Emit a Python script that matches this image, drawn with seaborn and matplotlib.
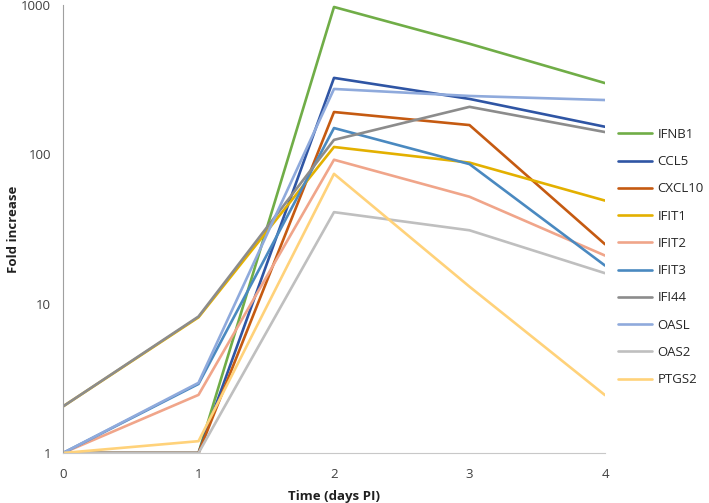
import pandas as pd
import matplotlib
matplotlib.use("Agg")
import matplotlib.pyplot as plt
import seaborn as sns

days = [0, 1, 2, 3, 4]
genes = ["IFNB1", "CCL5", "CXCL10", "IFIT1", "IFIT2", "IFIT3", "IFI44", "OASL", "OAS2", "PTGS2"]

ifnb1 = [1, 1, 970, 550, 300]
ccl5 = [1, 1, 325, 235, 153]
cxcl10 = [1, 1, 192, 157, 25]
ifit1 = [2.05, 8.1, 112, 88, 49]
ifit2 = [1, 2.45, 92, 52, 21]
ifit3 = [1, 2.9, 150, 86, 18]
ifi44 = [2.05, 8.2, 125, 208, 141]
oasl = [1, 2.95, 274, 246, 231]
oas2 = [1, 1, 41, 31, 16]
ptgs2 = [1, 1.2, 74, 13, 2.44]

colori = ["#70AD47", "#2F55A4", "#C55A11", "#E3B000", "#F0A58A",
          "#4A89C0", "#8C8C8C", "#8FAADC", "#BFBFBF", "#FFD27A"]

serie = [ifnb1, ccl5, cxcl10, ifit1, ifit2, ifit3, ifi44, oasl, oas2, ptgs2]
righe = []
for g, valori in zip(genes, serie):
    for d, v in zip(days, valori):
        righe.append({"day": d, "gene": g, "fold": v})
df = pd.DataFrame(righe)

sns.set_style("white")
plt.rcParams["font.family"] = ["Open Sans", "DejaVu Sans"]

fig = plt.figure(figsize=(7.09, 5.03), dpi=100)
ax = fig.add_axes([63 / 709, 50 / 503, 542 / 709, 448 / 503])
sns.lineplot(data=df, x="day", y="fold", hue="gene", hue_order=genes,
             palette=colori, linewidth=1.9, ax=ax, legend=True)

ax.set_yscale("log")
ax.set_ylim(1, 1000)
ax.set_xlim(0, 4)
ax.set_yticks([1, 10, 100, 1000])
ax.set_yticklabels(["1", "10", "100", "1000"])
ax.minorticks_off()
ax.set_xticks(days)
ax.set_xticklabels([str(d) for d in days])
ax.tick_params(axis="both", labelsize=9.5, colors="#404040", length=5, width=0.8, direction="out")
ax.tick_params(axis="y", color="#A0A0A0")
ax.tick_params(axis="x", color="#C8C8C8", pad=6)
for s in ["top", "right"]:
    ax.spines[s].set_visible(False)
ax.spines["left"].set_color("#A0A0A0")
ax.spines["bottom"].set_color("#C8C8C8")
ax.set_xlabel("Time (days PI)", fontsize=9.5, fontweight="bold", color="#202020")
ax.set_ylabel("Fold increase", fontsize=9.5, fontweight="bold", color="#202020")
ax.xaxis.set_label_coords(0.5, -0.083)
ax.yaxis.set_label_coords(-0.079, 0.5)

ax.legend(loc="upper left", bbox_to_anchor=(618 / 709, 1 - 128 / 503), bbox_transform=fig.transFigure,
          frameon=False, fontsize=9.5, handlelength=2.6, handletextpad=0.4, labelspacing=1.08,
          borderaxespad=0, borderpad=0)

plt.savefig("out.png", dpi=100)
